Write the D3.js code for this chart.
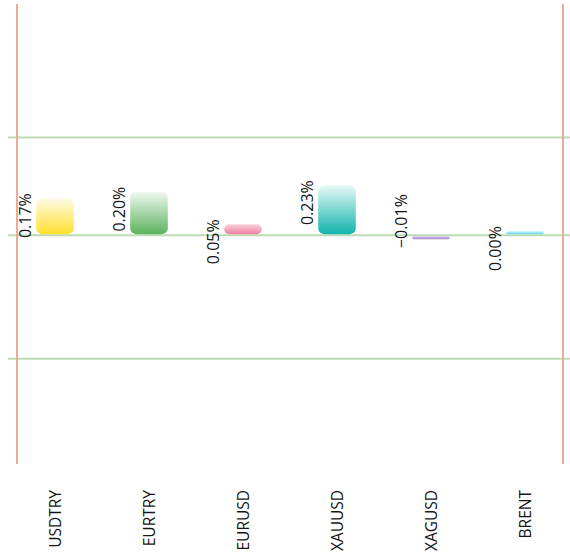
<!DOCTYPE html>
<html>
<head>
<meta charset="utf-8">
<script src="https://cdn.jsdelivr.net/npm/d3@7"></script>
<style>
  html, body { margin: 0; padding: 0; background: #fff; }
  svg { display: block; }
  text { font-family: "Open Sans", "Noto Sans", sans-serif; fill: #151515; }
</style>
</head>
<body>
<script>
// ---- data ----
const categories = ["USDTRY", "EURTRY", "EURUSD", "XAUUSD", "XAGUSD", "BRENT"];
const values = [0.17, 0.20, 0.05, 0.23, -0.01, 0.00];
const gridValues = [0.45, 0, -0.57];

// ---- styles ----
const barColors = [
  ["#fffbe8", "#ffdf2c"],
  ["#f1f8f1", "#5db35e"],
  ["#fcd3df", "#ef7fa0"],
  ["#e8f8f7", "#12b4ad"],
  ["#d9ccee", "#a286cc"],
  ["#c9f1fa", "#6fd5ee"]
];

const W = 570, H = 556;
const svg = d3.select("body").append("svg").attr("width", W).attr("height", H);

const x = d3.scaleBand().domain(categories).range([8, 572]).paddingInner(0.6).paddingOuter(0.3);
const y = d3.scaleLinear().domain([-1.05, 1.065]).range([463, 4]);

const defs = svg.append("defs");
barColors.forEach((c, i) => {
  const g = defs.append("linearGradient").attr("id", "g" + i)
    .attr("x1", 0).attr("y1", 0).attr("x2", 0).attr("y2", 1);
  g.append("stop").attr("offset", "0%").attr("stop-color", c[0]);
  g.append("stop").attr("offset", "100%").attr("stop-color", c[1]);
});

// gridlines
svg.append("g").selectAll("line").data(gridValues).join("line")
  .attr("x1", 8).attr("x2", 570)
  .attr("y1", d => y(d)).attr("y2", d => y(d))
  .attr("stroke", "#bddcb5").attr("stroke-width", 2);

// vertical border lines
svg.append("g").selectAll("line").data([17, 563]).join("line")
  .attr("x1", d => d).attr("x2", d => d)
  .attr("y1", y.range()[1]).attr("y2", y.range()[0] + 1)
  .attr("stroke", "#ebab9b").attr("stroke-width", 2);

const y0 = y(0);
const minH = 3;
const bars = categories.map((c, i) => {
  const v = values[i];
  const h = Math.max(minH, Math.abs(y(v) - y0) - 1);
  const top = v >= 0 ? y0 - 1 - h : y0 + 1;
  return { c, v, i, top, h };
});

svg.append("g").selectAll("rect").data(bars).join("rect")
  .attr("x", d => x(d.c))
  .attr("y", d => d.top)
  .attr("width", x.bandwidth())
  .attr("height", d => d.h)
  .attr("rx", d => Math.min(6, d.h / 2))
  .attr("ry", d => Math.min(6, d.h / 2))
  .attr("fill", d => "url(#g" + d.i + ")");

// value labels
const fmt = d3.format(".2f");
svg.append("g").selectAll("text").data(bars).join("text")
  .attr("transform", d => {
    const cx = x(d.c) + x.bandwidth() / 2 - 29.5;
    const yy = d.v >= 0 ? d.top - 5 : d.top + d.h + 9;
    return `translate(${cx},${yy}) rotate(-90)`;
  })
  .attr("text-anchor", d => d.v >= 0 ? "end" : "start")
  .attr("dy", "0.35em")
  .style("font-size", "16px")
  .text(d => fmt(d.v) + "%");

// category labels
const xAxis = svg.append("g").attr("transform", "translate(0,490)")
  .call(d3.axisBottom(x).tickSize(0).tickPadding(0));
xAxis.select(".domain").remove();
xAxis.selectAll("text")
  .attr("transform", "rotate(-90)")
  .attr("x", 0).attr("y", 0).attr("dy", "0.35em")
  .attr("dx", "0")
  .attr("text-anchor", "end")
  .style("font-size", "15.5px")
  .style("font-family", "'Open Sans', 'Noto Sans', sans-serif")
  .attr("fill", "#151515");
xAxis.selectAll(".tick").attr("transform", d => `translate(${x(d) + x.bandwidth() / 2 + 1},0)`);
</script>
</body>
</html>
